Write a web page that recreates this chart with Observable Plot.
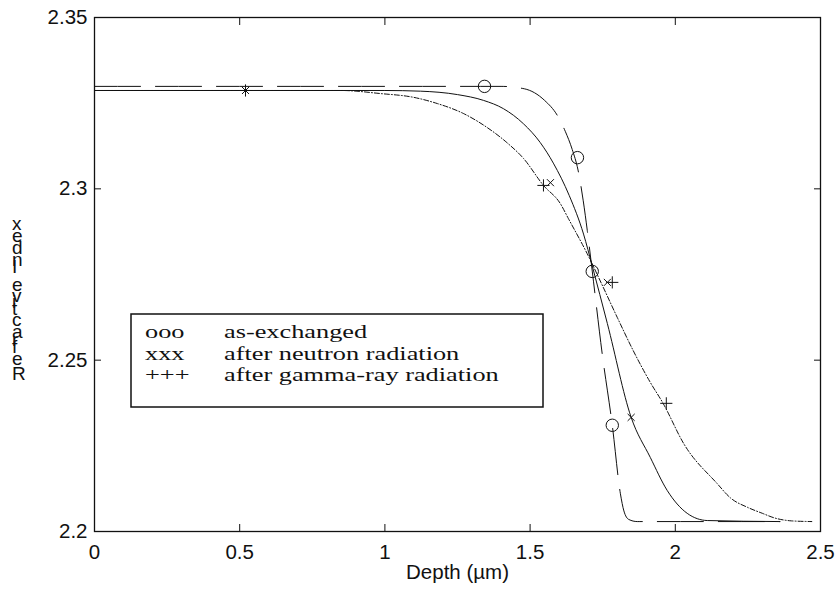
<!DOCTYPE html>
<html><head><meta charset="utf-8">
<script src="https://cdn.jsdelivr.net/npm/d3@7"></script>
<script src="https://cdn.jsdelivr.net/npm/@observablehq/plot@0.6"></script>
<style>body{margin:0;background:#fff}</style>
</head><body><div id="chart"></div>
<script>
const xTicks = [0, 0.5, 1, 1.5, 2, 2.5];
const yTicks = [2.2, 2.25, 2.3, 2.35];
const xLabel = "Depth (µm)";
const yLabel = "Refractive Index";
const legendKeys = ["ooo", "xxx", "+++"];
const legendLabels = ["as-exchanged", "after neutron radiation", "after gamma-ray radiation"];

// as-exchanged (dashed curve)
const asExX = [0, 1.40, 1.48, 1.55, 1.594, 1.621, 1.645, 1.665, 1.683, 1.697, 1.714, 1.749, 1.783, 1.811, 1.823, 1.840, 1.869, 2.36];
const asExY = [2.3299, 2.3299, 2.3292, 2.3258, 2.3214, 2.3168, 2.3115, 2.3055, 2.2965, 2.2878, 2.2760, 2.2514, 2.2310, 2.2110, 2.2060, 2.2035, 2.2029, 2.2029];
// after neutron radiation (solid curve)
const neutronX = [0, 1.0, 1.123, 1.25, 1.34, 1.408, 1.477, 1.535, 1.58, 1.635, 1.684, 1.714, 1.766, 1.848, 1.914, 1.972, 2.041, 2.11, 2.36];
const neutronY = [2.3287, 2.3287, 2.3285, 2.3275, 2.3258, 2.3234, 2.3190, 2.3135, 2.3075, 2.2980, 2.2868, 2.2775, 2.2607, 2.2333, 2.2216, 2.2120, 2.2053, 2.2032, 2.2029];
// after gamma-ray radiation (dash-dot curve)
const gammaX = [0, 0.85, 0.985, 1.099, 1.18, 1.27, 1.352, 1.42, 1.477, 1.546, 1.604, 1.632, 1.70, 1.745, 1.80, 1.855, 1.914, 1.958, 2.03, 2.144, 2.19, 2.25, 2.30, 2.34, 2.40, 2.47];
const gammaY = [2.3287, 2.3287, 2.3278, 2.3267, 2.3249, 2.3220, 2.3179, 2.3135, 2.3089, 2.3010, 2.2957, 2.2913, 2.2805, 2.2725, 2.2625, 2.2528, 2.2435, 2.2374, 2.2255, 2.2140, 2.2098, 2.2070, 2.2053, 2.2040, 2.2031, 2.2029];

// markers
const circleX = [1.343, 1.663, 1.714, 1.783];
const circleY = [2.3299, 2.3091, 2.2759, 2.2310];
const timesX = [0.52, 1.57, 1.766, 1.848];
const timesY = [2.3287, 2.3018, 2.2727, 2.2333];
const plusX = [0.52, 1.546, 1.783, 1.969];
const plusY = [2.3287, 2.3010, 2.2727, 2.2374];

const rows = (xs, ys) => xs.map((x, i) => ({x, y: ys[i]}));
const ink = "#111";
const sans = "Liberation Sans, Arial, sans-serif";
const serif = "Liberation Serif, Times New Roman, serif";

const svg = Plot.plot({
  width: 837,
  height: 595,
  marginLeft: 94,
  marginRight: 17,
  marginTop: 17,
  marginBottom: 64,
  style: {background: "white", fontFamily: sans, color: ink},
  x: {domain: [0, 2.5]},
  y: {domain: [2.2, 2.35]},
  marks: [
    Plot.line(rows(asExX, asExY), {x: "x", y: "y", stroke: ink, strokeWidth: 1, strokeDasharray: "46,15", curve: "monotone-x"}),
    Plot.line(rows(neutronX, neutronY), {x: "x", y: "y", stroke: ink, strokeWidth: 1, curve: "monotone-x"}),
    Plot.line(rows(gammaX, gammaY), {x: "x", y: "y", stroke: ink, strokeWidth: 1, strokeDasharray: "5,2,1,2", curve: "monotone-x"}),
    Plot.dot(rows(circleX, circleY), {x: "x", y: "y", symbol: "circle", r: 6.2, stroke: ink, fill: "none", strokeWidth: 1}),
    Plot.dot(rows(timesX, timesY), {x: "x", y: "y", symbol: "times", r: 3.3, stroke: ink, fill: "none", strokeWidth: 1}),
    Plot.dot(rows(plusX, plusY), {x: "x", y: "y", symbol: "plus", r: 4.0, stroke: ink, fill: "none", strokeWidth: 1}),
    Plot.frame({stroke: ink, strokeWidth: 1.3}),
    Plot.axisX(xTicks, {anchor: "bottom", tickSize: -7, tickFormat: () => "", label: null}),
    Plot.axisX(xTicks, {anchor: "top", tickSize: -7, tickFormat: () => "", label: null}),
    Plot.axisX(xTicks, {anchor: "bottom", tickSize: 0, tickPadding: 13, tickFormat: d => String(d), fontSize: 20.5, label: null}),
    Plot.axisY(yTicks, {anchor: "left", tickSize: -7, tickFormat: () => "", label: null}),
    Plot.axisY(yTicks, {anchor: "right", tickSize: -7, tickFormat: () => "", label: null}),
    Plot.axisY(yTicks, {anchor: "left", tickSize: 0, tickPadding: 7, tickFormat: d => String(d), fontSize: 20.5, label: null}),
    Plot.text([xLabel], {text: d => d, frameAnchor: "bottom", dy: 47.6, fontSize: 20.5, fill: ink})
  ]
});

const root = d3.select(svg);
// y-axis title: glyphs stacked upright, reading bottom to top
root.append("text")
  .attr("transform", "translate(12,380) rotate(-90)")
  .attr("rotate", "90")
  .attr("text-anchor", "start")
  .attr("textLength", 160)
  .attr("lengthAdjust", "spacing")
  .attr("font-family", sans)
  .attr("font-size", 19)
  .attr("fill", ink)
  .text(yLabel);

// legend
const lg = root.append("g").attr("text-anchor", "start");
lg.append("rect").attr("x", 131).attr("y", 314).attr("width", 412).attr("height", 93)
  .attr("fill", "white").attr("stroke", ink).attr("stroke-width", 1.5);
legendKeys.forEach((k, i) => {
  const yb = 338 + i * 21.5;
  lg.append("text").attr("transform", `translate(145,${yb}) scale(1.35,1)`)
    .attr("text-anchor", "start")
    .attr("font-family", serif).attr("font-size", 19.5).attr("fill", ink).text(k);
  lg.append("text").attr("transform", `translate(224,${yb}) scale(1.35,1)`)
    .attr("text-anchor", "start")
    .attr("font-family", serif).attr("font-size", 19.5).attr("fill", ink).text(legendLabels[i]);
});

document.getElementById("chart").appendChild(svg);
</script>
</body></html>
